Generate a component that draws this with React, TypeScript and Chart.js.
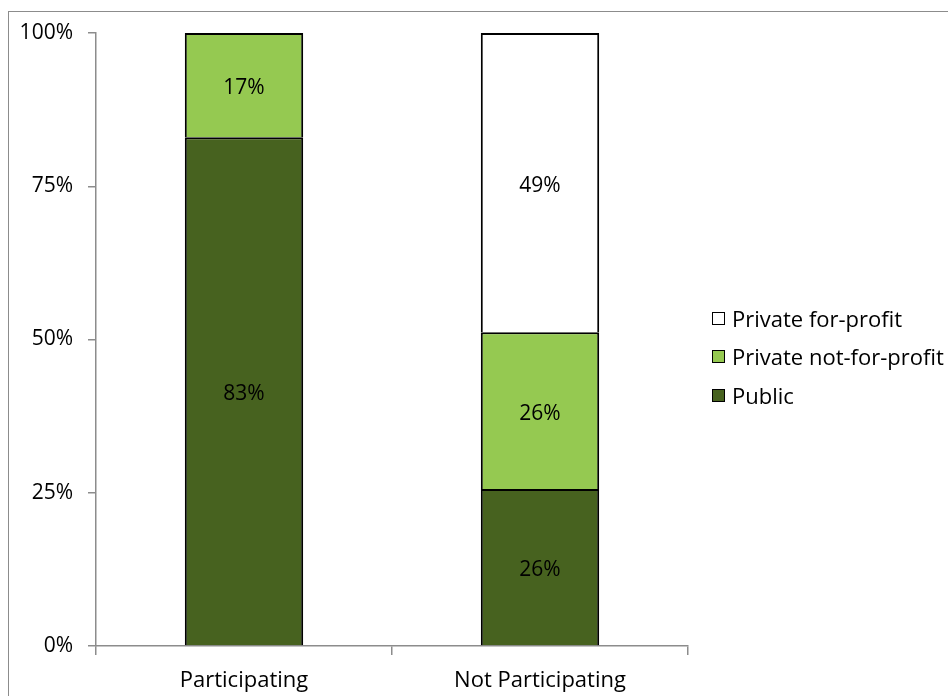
import React, { useEffect, useRef } from "react";
import { Chart, registerables } from "chart.js";

Chart.register(...registerables);

const categories = ["Participating", "Not Participating"];
const publicValues = [83, 25.6];
const privateNfpValues = [17, 25.6];
const privateFpValues = [0, 48.8];
const publicLabels = ["83%", "26%"];
const privateNfpLabels = ["17%", "26%"];
const privateFpLabels = ["", "49%"];
const seriesNames = ["Public", "Private not-for-profit", "Private for-profit"];
const yTicks = [0, 25, 50, 75, 100];

const COLORS = ["#47621F", "#95C951", "#FFFFFF"];
const FONT = "'Open Sans', Lato, sans-serif";
const FS = 22;
const FS_TICK = 21;

const labelPlugin = {
  id: "segLabels",
  afterDatasetsDraw(chart: any) {
    const ctx = chart.ctx;
    const labelsByDs = [publicLabels, privateNfpLabels, privateFpLabels];
    ctx.save();
    ctx.font = `${FS_TICK}px ${FONT}`;
    ctx.fillStyle = "#000";
    ctx.textAlign = "center";
    ctx.textBaseline = "middle";
    chart.data.datasets.forEach((ds: any, di: number) => {
      const meta = chart.getDatasetMeta(di);
      meta.data.forEach((bar: any, i: number) => {
        const txt = labelsByDs[di][i];
        if (!txt) return;
        const top = Math.min(bar.y, bar.base);
        const bot = Math.max(bar.y, bar.base);
        ctx.fillText(txt, bar.x, (top + bot) / 2 + 3);
      });
    });
    ctx.restore();
  },
};

export default function App() {
  const ref = useRef<HTMLCanvasElement>(null);
  useEffect(() => {
    document.body.style.margin = "0";
    const chart = new Chart(ref.current!, {
      type: "bar",
      data: {
        labels: categories,
        datasets: [
          { label: seriesNames[0], data: publicValues, backgroundColor: COLORS[0] },
          { label: seriesNames[1], data: privateNfpValues, backgroundColor: COLORS[1] },
          { label: seriesNames[2], data: privateFpValues, backgroundColor: COLORS[2] },
        ].map((d) => ({
          ...d,
          borderColor: "#000",
          borderWidth: 2,
          borderSkipped: "bottom",
          barPercentage: 0.4,
          categoryPercentage: 1,
        })),
      },
      options: {
        animation: false,
        responsive: false,
        layout: { padding: { left: 0, top: 33, right: 260, bottom: 0 } },
        plugins: { legend: { display: false }, tooltip: { enabled: false } },
        scales: {
          x: {
            stacked: true,
            grid: {
              display: true,
              drawOnChartArea: false,
              drawTicks: true,
              tickLength: 9,
              color: "#8c8c8c",
              lineWidth: 1.5,
              offset: true,
            },
            border: { color: "#8c8c8c", width: 1.5 },
            ticks: { color: "#000", font: { family: FONT, size: FS }, padding: 13 },
            afterFit: (s: any) => {
              s.height = 50;
            },
          },
          y: {
            stacked: true,
            min: 0,
            max: 100,
            afterBuildTicks: (s: any) => {
              s.ticks = yTicks.map((v) => ({ value: v }));
            },
            grid: {
              display: true,
              drawOnChartArea: false,
              drawTicks: true,
              tickLength: 8,
              color: "#8c8c8c",
              lineWidth: 1.5,
            },
            border: { color: "#8c8c8c", width: 1.5 },
            ticks: {
              color: "#000",
              font: { family: FONT, size: FS_TICK },
              padding: 15,
              callback: (v: any) => v + "%",
            },
            afterFit: (s: any) => {
              s.width = 96;
            },
          },
        },
      },
      plugins: [labelPlugin],
    });
    return () => chart.destroy();
  }, []);

  const legendItems = [2, 1, 0];
  const legendY = [318, 356, 395];

  return (
    <div style={{ position: "relative", width: 948, height: 696, overflow: "hidden", background: "#fff" }}>
      <div
        style={{
          position: "absolute",
          left: 8,
          top: 11,
          width: 960,
          height: 720,
          border: "1.5px solid #8c8c8c",
          boxSizing: "border-box",
        }}
      />
      <canvas ref={ref} width={948} height={696} style={{ position: "absolute", left: 0, top: 0 }} />
      {legendItems.map((si, k) => (
        <div
          key={si}
          style={{
            position: "absolute",
            left: 712,
            top: legendY[k] - 15,
            height: 30,
            display: "flex",
            alignItems: "center",
            fontFamily: FONT,
            fontSize: FS,
            color: "#000",
            whiteSpace: "nowrap",
          }}
        >
          <span
            style={{
              display: "inline-block",
              width: 13,
              height: 13,
              background: COLORS[si],
              border: "1.5px solid #000",
              boxSizing: "border-box",
              marginRight: 7,
            }}
          />
          {seriesNames[si]}
        </div>
      ))}
    </div>
  );
}
